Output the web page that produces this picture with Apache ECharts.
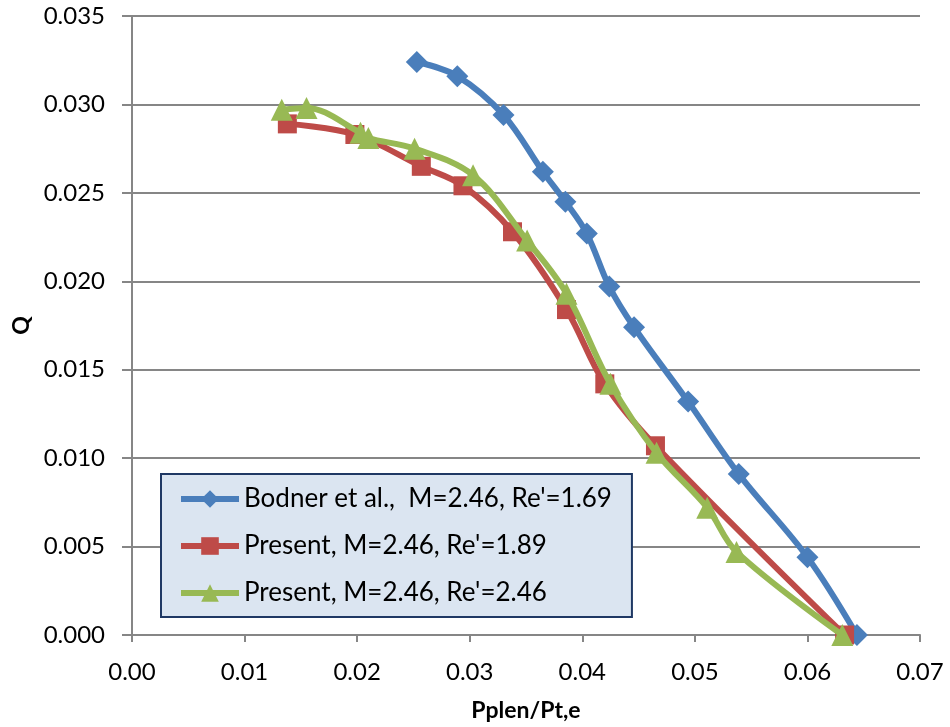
<!DOCTYPE html>
<html>
<head>
<meta charset="utf-8">
<script src="https://cdn.jsdelivr.net/npm/echarts@6/dist/echarts.min.js"></script>
<style>html,body{margin:0;padding:0;background:#fff}#c{width:950px;height:727px}</style>
</head>
<body>
<div id="c"></div>
<script>
var seriesNames = ["Bodner et al.,  M=2.46, Re'=1.69", "Present, M=2.46, Re'=1.89", "Present, M=2.46, Re'=2.46"];
var bodnerX = [0.0253, 0.0289, 0.0330, 0.0365, 0.0385, 0.0404, 0.0424, 0.0446, 0.0494, 0.0539, 0.0600, 0.0644];
var bodnerY = [0.0324, 0.0316, 0.0294, 0.0262, 0.0245, 0.0227, 0.0197, 0.0174, 0.0132, 0.0091, 0.0044, 0.0000];
var present189X = [0.0138, 0.0198, 0.0257, 0.0294, 0.0338, 0.0386, 0.0420, 0.0465, 0.0633];
var present189Y = [0.0289, 0.0283, 0.0265, 0.0254, 0.0228, 0.0184, 0.0142, 0.0107, 0.0000];
var present246X = [0.0133, 0.0155, 0.0203, 0.0210, 0.0251, 0.0303, 0.0351, 0.0386, 0.0425, 0.0466, 0.0511, 0.0537, 0.0631];
var present246Y = [0.0297, 0.0298, 0.0284, 0.0281, 0.0275, 0.0260, 0.0223, 0.0193, 0.0142, 0.0103, 0.0072, 0.0047, 0.0000];
var xTicks = {min: 0, max: 0.07, interval: 0.01};
var yTicks = {min: 0, max: 0.035, interval: 0.005};

function pairs(xs, ys) { return xs.map(function (x, i) { return [x, ys[i]]; }); }

var FONT = 'Lato, "Liberation Sans", sans-serif';
var colors = ['#4a7ebb', '#be4b48', '#98b954'];
var symbols = ['diamond', 'rect', 'triangle'];
var sizes = [22, 19, 22];
var datas = [pairs(bodnerX, bodnerY), pairs(present189X, present189Y), pairs(present246X, present246Y)];

var chart = echarts.init(document.getElementById('c'), null, {renderer: 'canvas'});
chart.setOption({
  animation: false,
  backgroundColor: '#ffffff',
  grid: {left: 132, right: 30, top: 16, bottom: 83, containLabel: false},
  xAxis: {
    type: 'value', min: xTicks.min, max: xTicks.max, interval: xTicks.interval,
    name: 'Pplen/Pt,e', nameLocation: 'middle', nameGap: 64,
    nameTextStyle: {fontFamily: FONT, fontSize: 23, fontWeight: 'bold', color: '#000'},
    axisLine: {show: true, lineStyle: {color: '#868686', width: 2}},
    axisTick: {show: true, length: 7, lineStyle: {color: '#868686', width: 2}},
    axisLabel: {margin: 25, fontFamily: FONT, fontSize: 24, color: '#000',
      formatter: function (v) { return v.toFixed(2); }},
    splitLine: {show: false}
  },
  yAxis: {
    type: 'value', min: yTicks.min, max: yTicks.max, interval: yTicks.interval,
    name: 'Q', nameLocation: 'middle', nameGap: 77, nameRotate: 90,
    nameTextStyle: {fontFamily: FONT, fontSize: 23, fontWeight: 'bold', color: '#000'},
    axisLine: {show: true, lineStyle: {color: '#868686', width: 2}},
    axisTick: {show: true, length: 10, lineStyle: {color: '#868686', width: 2}},
    axisLabel: {margin: 27, fontFamily: FONT, fontSize: 24, color: '#000',
      formatter: function (v) { return v.toFixed(3); }},
    splitLine: {show: true, lineStyle: {color: '#868686', width: 2}}
  },
  legend: {
    orient: 'vertical', left: 161, top: 474,
    backgroundColor: '#dbe5f1', borderColor: '#1f3864', borderWidth: 2, borderRadius: 0,
    padding: [11, 20, 10, 17], itemGap: 19, itemWidth: 58, itemHeight: 22,
    lineStyle: {width: 6},
    textStyle: {fontFamily: FONT, fontSize: 26, color: '#000', lineHeight: 28, padding: [0, 0, 0, 0]},
    data: seriesNames
  },
  series: seriesNames.map(function (n, i) {
    return {
      name: n, type: 'line', data: datas[i], smooth: 0.35,
      symbol: symbols[i], symbolSize: sizes[i], showAllSymbol: true,
      lineStyle: {color: colors[i], width: 6},
      itemStyle: {color: colors[i]},
      z: 2 + i
    };
  })
});
</script>
</body>
</html>
